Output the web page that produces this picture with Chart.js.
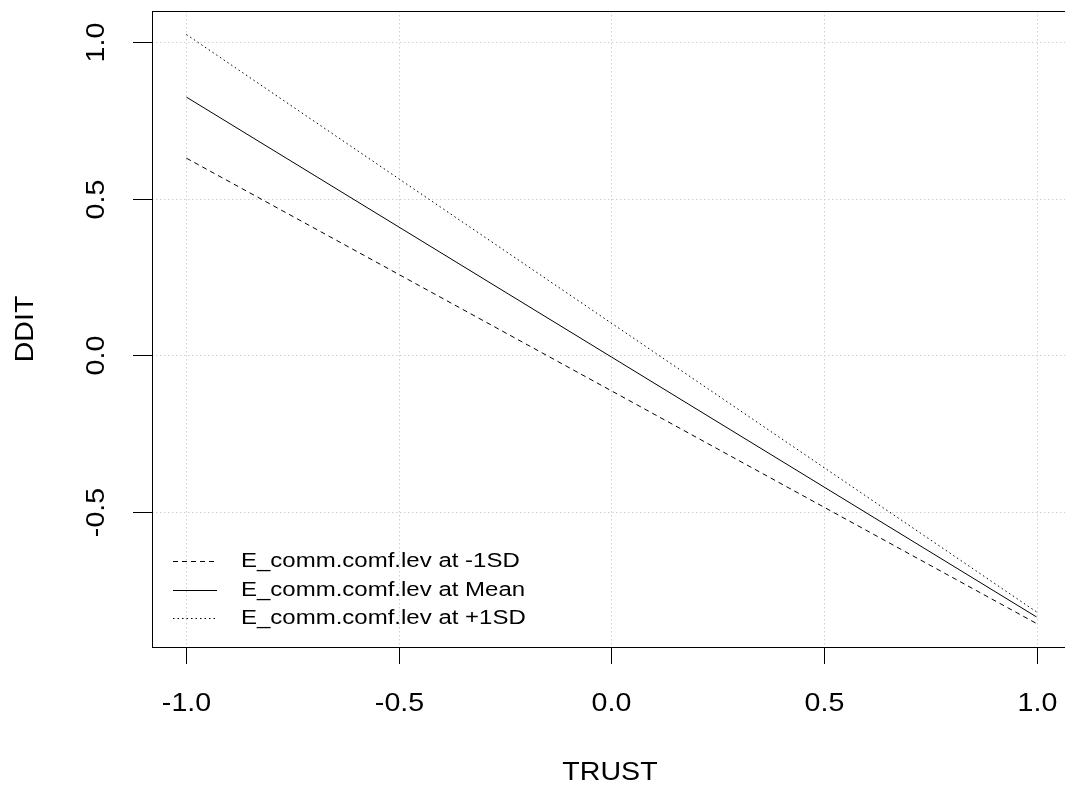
<!DOCTYPE html>
<html lang="en">
<head>
    <meta charset="UTF-8">
    <title>DDIT by TRUST</title>
    <script src="https://cdn.jsdelivr.net/npm/chart.js"></script>
    <style>
        * {
            margin: 0;
            padding: 0;
            box-sizing: border-box;
        }

        body {
            background: white;
            overflow: hidden;
        }
    </style>
</head>
<body>
    <canvas id="plot" width="1065" height="788"></canvas>

    <script>
        // values
        const trust = [-1, 1];
        const dditLow = [0.630, -0.856];
        const dditMean = [0.825, -0.835];
        const dditHigh = [1.025, -0.819];

        const xTicks = [-1, -0.5, 0, 0.5, 1];
        const yTicks = [-0.5, 0, 0.5, 1];
        const xLabels = ['-1.0', '-0.5', '0.0', '0.5', '1.0'];
        const yLabels = ['-0.5', '0.0', '0.5', '1.0'];

        const seriesNames = ['E_comm.comf.lev at -1SD', 'E_comm.comf.lev at Mean', 'E_comm.comf.lev at +1SD'];
        const dashes = [[5, 4], [], [1.5, 3]];

        const FONT = '"Liberation Sans", Arial, sans-serif';

        function pts(ys) {
            return trust.map((x, i) => ({ x: x, y: ys[i] }));
        }

        // stretched text, the reference looks wider than plain Arial
        function text(ctx, str, x, y, size, sx, rot) {
            ctx.save();
            ctx.translate(x, y);
            if (rot) ctx.rotate(rot);
            ctx.scale(sx, 1);
            ctx.font = size + 'px ' + FONT;
            ctx.fillText(str, 0, 0);
            ctx.restore();
        }

        // grid, box, ticks, labels and legend, R base-graphics style
        const rAxes = {
            id: 'rAxes',
            beforeDatasetsDraw(chart) {
                const ctx = chart.ctx;
                const a = chart.chartArea;
                const xs = chart.scales.x, ys = chart.scales.y;
                ctx.save();
                ctx.strokeStyle = '#d0d0d0';
                ctx.lineWidth = 1;
                ctx.setLineDash([1.5, 2.5]);
                xTicks.forEach(v => {
                    const px = Math.round(xs.getPixelForValue(v)) + 0.5;
                    ctx.beginPath();
                    ctx.moveTo(px, a.top);
                    ctx.lineTo(px, a.bottom);
                    ctx.stroke();
                });
                yTicks.forEach(v => {
                    const py = Math.round(ys.getPixelForValue(v)) + 0.5;
                    ctx.beginPath();
                    ctx.moveTo(a.left, py);
                    ctx.lineTo(a.right, py);
                    ctx.stroke();
                });
                ctx.restore();
            },
            afterDraw(chart) {
                const ctx = chart.ctx;
                const a = chart.chartArea;
                const xs = chart.scales.x, ys = chart.scales.y;
                ctx.save();
                ctx.strokeStyle = '#000';
                ctx.fillStyle = '#000';
                ctx.lineWidth = 1;
                ctx.setLineDash([]);
                // right side of the box falls just outside the window
                ctx.strokeRect(a.left + 0.5, a.top + 0.5, a.right - a.left + 8, a.bottom - a.top);

                ctx.textAlign = 'center';
                ctx.textBaseline = 'middle';
                xTicks.forEach((v, i) => {
                    const px = Math.round(xs.getPixelForValue(v)) + 0.5;
                    ctx.beginPath();
                    ctx.moveTo(px, a.bottom);
                    ctx.lineTo(px, a.bottom + 17);
                    ctx.stroke();
                    text(ctx, xLabels[i], px, a.bottom + 57, 26, 1.1, 0);
                });
                yTicks.forEach((v, i) => {
                    const py = Math.round(ys.getPixelForValue(v)) + 0.5;
                    ctx.beginPath();
                    ctx.moveTo(a.left, py);
                    ctx.lineTo(a.left - 19, py);
                    ctx.stroke();
                    text(ctx, yLabels[i], a.left - 55, py, 26, 1.1, -Math.PI / 2);
                });

                text(ctx, 'TRUST', 610, 773, 26, 1.1, 0);
                text(ctx, 'DDIT', 26, (a.top + a.bottom) / 2, 26, 1.1, -Math.PI / 2);

                // legend
                const rows = [561, 590, 618];
                ctx.textAlign = 'left';
                rows.forEach((ry, i) => {
                    ctx.setLineDash(dashes[i]);
                    ctx.beginPath();
                    ctx.moveTo(173, ry + 0.5);
                    ctx.lineTo(217, ry + 0.5);
                    ctx.stroke();
                    ctx.setLineDash([]);
                    text(ctx, seriesNames[i], 241, ry, 20, 1.2, 0);
                });
                ctx.restore();
            }
        };

        const plot = new Chart(document.getElementById('plot'), {
            type: 'line',
            data: {
                datasets: [dditLow, dditMean, dditHigh].map((ys, i) => ({
                    label: seriesNames[i],
                    data: pts(ys),
                    borderColor: '#000',
                    borderWidth: 1,
                    borderDash: dashes[i],
                    pointRadius: 0,
                    tension: 0,
                    fill: false
                }))
            },
            options: {
                responsive: false,
                animation: false,
                layout: {
                    padding: { left: 152, top: 11, right: 0, bottom: 141 }
                },
                scales: {
                    x: { type: 'linear', min: -1.081, max: 1.067, display: false },
                    y: { type: 'linear', min: -0.931, max: 1.100, display: false }
                },
                plugins: {
                    legend: { display: false },
                    tooltip: { enabled: false }
                }
            },
            plugins: [rAxes]
        });
    </script>
</body>
</html>
